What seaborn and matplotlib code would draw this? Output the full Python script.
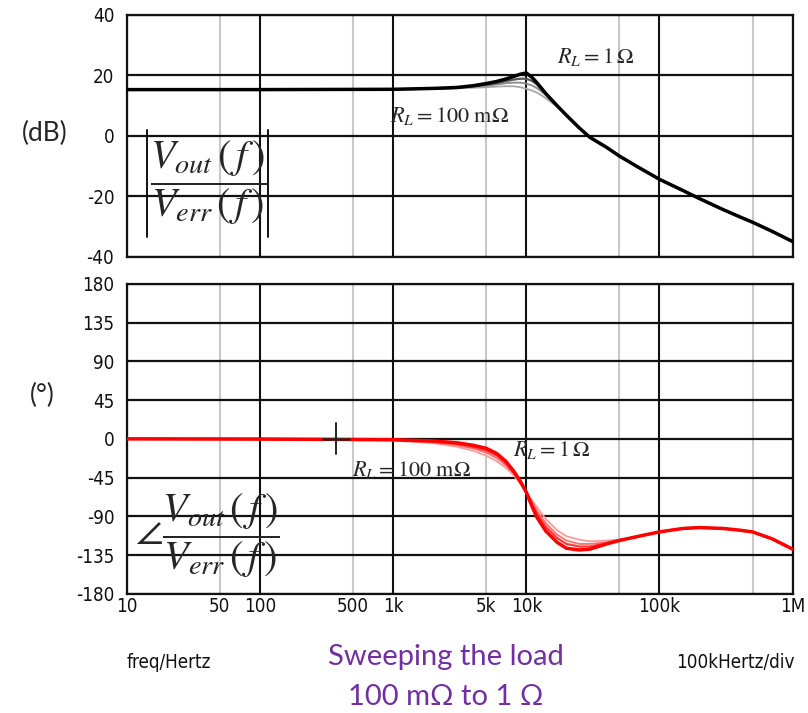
"""Bode plot of Vout/Verr while sweeping the load 100 mOhm -> 1 Ohm."""
import pandas as pd
import matplotlib
matplotlib.use("Agg")
import matplotlib.pyplot as plt
import seaborn as sns

# ---- data ----
FREQ = [10, 100, 1e3, 2e3, 3e3, 4e3, 5e3, 6e3, 7e3, 8e3, 9e3, 10e3, 11e3, 12e3,
        14e3, 17e3, 20e3, 25e3, 30e3, 40e3, 50e3, 70e3, 100e3, 150e3, 200e3,
        300e3, 400e3, 500e3, 700e3, 1e6]
LOADS = ["100 mΩ", "400 mΩ", "700 mΩ", "1 Ω"]   # light -> dark

TAIL_MAG = [-3.8, -6.7, -10.5, -14.4, -18.1, -20.8, -24.4, -26.8, -28.6, -31.6, -35.0]
MAG_100M = [15.3, 15.3, 15.3, 15.5, 15.7, 15.9, 16.1, 16.3, 16.4, 16.4, 16.1, 15.6,
            15.0, 14.3, 12.5, 9.6, 6.7, 2.5, -0.6] + TAIL_MAG
MAG_400M = [15.3, 15.3, 15.4, 15.6, 15.8, 16.2, 16.6, 17.0, 17.4, 17.6, 17.6, 17.3,
            16.7, 15.8, 13.5, 10.0, 6.9, 2.6, -0.5] + TAIL_MAG
MAG_700M = [15.3, 15.3, 15.4, 15.6, 15.9, 16.4, 16.9, 17.5, 18.1, 18.6, 18.9, 18.9,
            18.2, 17.0, 14.0, 10.1, 6.9, 2.6, -0.5] + TAIL_MAG
MAG_1 = [15.3, 15.3, 15.4, 15.7, 16.0, 16.6, 17.3, 18.0, 18.8, 19.6, 20.4, 20.8,
         19.4, 17.6, 14.0, 10.0, 6.8, 2.6, -0.5] + TAIL_MAG

TAIL_PH = [-113, -108, -104, -103, -104, -106, -108, -116, -128]
PH_100M = [0, -0.5, -2, -5, -9, -14, -19.5, -26, -33.5, -42, -52, -62, -71, -79,
           -93, -106, -113, -117, -119, -118, -117] + TAIL_PH
PH_400M = [0, -0.4, -1.6, -4, -7.2, -11.2, -16, -22.5, -30.5, -40, -51, -62, -73, -83,
           -98, -111, -118, -122, -122, -120, -117] + TAIL_PH
PH_700M = [0, -0.3, -1.3, -3.2, -5.8, -9.3, -13.5, -19.5, -28, -38.5, -50, -62, -75, -87,
           -102, -115, -122, -125, -125, -121, -118] + TAIL_PH
PH_1 = [0, -0.2, -1, -2.5, -4.5, -7.5, -11, -17, -26, -37, -49, -62, -78, -91,
        -107, -120, -127, -129, -128, -122, -118] + TAIL_PH

X_TICKS = [10, 50, 100, 500, 1e3, 5e3, 1e4, 1e5, 1e6]
X_LABELS = ["10", "50", "100", "500", "1k", "5k", "10k", "100k", "1M"]
DECADES = [10, 100, 1e3, 1e4, 1e5, 1e6]
FIVES = [50, 500, 5e3, 5e4, 5e5]
MAG_TICKS = [40, 20, 0, -20, -40]
PH_TICKS = [180, 135, 90, 45, 0, -45, -90, -135, -180]
CURSOR_F = 372

mag = pd.DataFrame({"freq": FREQ * 4,
                    "val": MAG_100M + MAG_400M + MAG_700M + MAG_1,
                    "load": sum([[l] * len(FREQ) for l in LOADS], [])})
ph = pd.DataFrame({"freq": FREQ * 4,
                   "val": PH_100M + PH_400M + PH_700M + PH_1,
                   "load": sum([[l] * len(FREQ) for l in LOADS], [])})

sns.set_style("white")
plt.rcParams["mathtext.fontset"] = "stix"
TICK_KW = dict(family=["DejaVu Sans"], fontstretch="condensed", fontsize=13.5,
               color="#111111")

fig = plt.figure(figsize=(8.08, 7.13), dpi=100)
ax1 = fig.add_axes([0.157, 0.640, 0.824, 0.339])
ax2 = fig.add_axes([0.157, 0.167, 0.824, 0.435])

grey_pal = dict(zip(LOADS, ["#a8a8a8", "#8a8a8a", "#555555", "#000000"]))
red_pal = dict(zip(LOADS, ["#ff9a9a", "#ff7070", "#ff3a3a", "#ff0000"]))
widths = dict(zip(LOADS, [1.3, 1.3, 1.6, 2.5]))

for ax, ticks, lim in [(ax1, MAG_TICKS, (-40, 40)), (ax2, PH_TICKS, (-180, 180))]:
    ax.set_xscale("log")
    for f in FIVES:
        ax.axvline(f, color="#c8c8c8", lw=1.5, zorder=1)
    for f in DECADES:
        ax.axvline(f, color="#111111", lw=1.5, zorder=1)
    for t in ticks:
        ax.axhline(t, color="#111111", lw=1.6, zorder=1)
    ax.set_xlim(10, 1e6)
    ax.set_ylim(*lim)
    ax.set_yticks(ticks)
    ax.set_yticklabels([str(t) for t in ticks], **TICK_KW)
    ax.tick_params(length=0, pad=9)
    for s in ax.spines.values():
        s.set_color("#111111")
        s.set_linewidth(1.6)

sns.lineplot(data=mag, x="freq", y="val", hue="load", hue_order=LOADS,
             palette=grey_pal, size="load", sizes=widths, estimator=None,
             sort=False, legend=False, ax=ax1, zorder=3)
sns.lineplot(data=ph, x="freq", y="val", hue="load", hue_order=LOADS,
             palette=red_pal, size="load", sizes=widths, estimator=None,
             sort=False, legend=False, ax=ax2, zorder=3)

ax1.set_xticks(X_TICKS)
ax1.set_xticklabels([])
ax1.set_xlabel("")
ax1.set_ylabel("")
ax2.set_xticks(X_TICKS)
ax2.set_xticklabels(X_LABELS, **TICK_KW)
ax2.tick_params(axis="x", pad=2)
ax2.minorticks_off()
ax1.minorticks_off()
ax2.set_xlabel("")
ax2.set_ylabel("")

# cursor mark
ax2.plot([CURSOR_F, CURSOR_F], [-18, 18], color="#222222", lw=1.4, zorder=4)
ax2.plot([CURSOR_F * 0.8, CURSOR_F * 1.25], [0, 0], color="#222222", lw=1.8, zorder=4)

# formulas and load labels
frac = r"$\dfrac{V_{out}\,\left(\,f\,\right)}{V_{err}\,\left(\,f\,\right)}$"
ax1.text(14.8, -15.5, frac, fontsize=29, va="center", ha="left", zorder=5)
for xb in (147, 268):
    ax1.plot([xb / 808, xb / 808], [(713 - 130) / 713, (713 - 237) / 713],
             color="#111111", lw=1.4, transform=fig.transFigure, zorder=5)
ax2.text(11.5, -112, r"$\angle$" + frac, fontsize=29, va="center", ha="left", zorder=5)
ax1.text(17e3, 26, r"$R_L=1\,\Omega$", fontsize=16, va="center", zorder=5)
ax1.text(950, 6.5, r"$R_L=100\ \mathrm{m}\Omega$", fontsize=16, va="center", zorder=5)
ax2.text(7.9e3, -13, r"$R_L=1\,\Omega$", fontsize=16, va="center", zorder=5)
ax2.text(490, -36, r"$R_L=100\ \mathrm{m}\Omega$", fontsize=16, va="center", zorder=5)

fig.text(0.056, 1 - 133 / 713, "(dB)", fontsize=19, family=["Lato", "DejaVu Sans"],
         ha="center", va="center")
fig.text(0.052, 1 - 395 / 713, "(°)", fontsize=19, family=["Lato", "DejaVu Sans"],
         ha="center", va="center")
fig.text(127 / 808, 1 - 662 / 713, "freq/Hertz", ha="left", va="center", **TICK_KW)
fig.text(795 / 808, 1 - 662 / 713, "100kHertz/div", ha="right", va="center", **TICK_KW)
fig.text(446 / 808, 1 - 657 / 713, "Sweeping the load", fontsize=21,
         family=["Lato", "DejaVu Sans"], color="#7030A0", ha="center", va="center")
fig.text(446 / 808, 1 - 697 / 713, "100 mΩ to 1 Ω", fontsize=21,
         family=["Lato", "DejaVu Sans"], color="#7030A0", ha="center", va="center")

fig.savefig("out.png", dpi=100)
